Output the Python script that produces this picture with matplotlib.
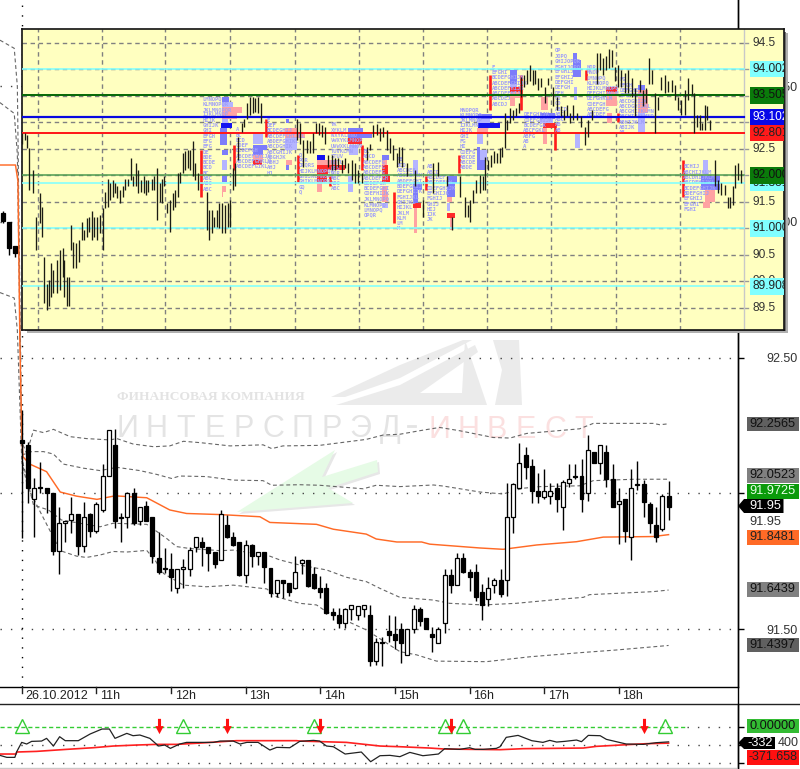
import matplotlib
matplotlib.use('Agg')
import matplotlib.pyplot as plt
from matplotlib.patches import Polygon, Rectangle
from matplotlib.transforms import ScaledTranslation

W, H = 800, 769
plt.rcParams['font.family'] = ['Liberation Sans', 'DejaVu Sans']

# ---- 5-minute candles of the main chart (index -3 .. 104) ----
first_bar = -3
opens = [93.033,93.000,92.912,92.195,92.178,91.978,92.021,92.021,92.001,91.789,91.892,91.901,91.923,91.807,91.924,91.863,91.939,92.063,92.178,91.914,91.912,92.001,91.899,91.953,91.912,91.761,91.725,91.723,91.650,91.723,91.723,91.801,91.821,91.801,91.784,91.753,91.882,91.839,91.821,91.699,91.810,91.770,91.783,91.724,91.632,91.682,91.671,91.650,91.742,91.753,91.702,91.650,91.650,91.562,91.553,91.521,91.573,91.552,91.573,91.553,91.384,91.451,91.493,91.482,91.499,91.403,91.499,91.573,91.542,91.482,91.450,91.521,91.700,91.661,91.761,91.712,91.712,91.638,91.612,91.662,91.681,91.681,91.912,92.021,92.141,92.101,92.009,91.988,91.990,92.021,91.951,92.039,92.063,92.064,92.001,92.152,92.111,92.152,92.052,91.960,91.979,91.839,92.034,92.033,91.961,91.882,91.868,91.990]
highs = [93.040,93.000,92.912,92.307,92.190,92.055,92.117,92.021,92.001,91.949,91.899,91.985,91.923,91.968,91.929,91.968,92.107,92.232,92.236,91.926,92.006,92.019,91.951,91.973,91.912,91.859,91.797,91.782,91.723,91.757,91.804,91.839,91.838,91.801,91.784,91.939,91.920,91.859,91.821,91.828,91.813,91.783,91.783,91.724,91.682,91.682,91.671,91.769,91.757,91.753,91.730,91.697,91.669,91.576,91.576,91.576,91.590,91.586,91.590,91.589,91.466,91.472,91.552,91.548,91.521,91.499,91.589,91.580,91.542,91.509,91.509,91.720,91.720,91.779,91.779,91.720,91.740,91.666,91.691,91.687,91.720,92.037,92.037,92.187,92.170,92.125,92.077,92.089,92.039,92.037,92.049,92.108,92.108,92.125,92.217,92.152,92.179,92.177,92.108,92.019,91.979,92.089,92.118,92.049,91.967,91.951,91.998,92.047]
lows = [92.995,92.880,92.870,91.834,91.963,91.841,92.003,91.926,91.773,91.702,91.822,91.853,91.773,91.785,91.841,91.853,91.933,92.063,91.871,91.822,91.871,91.883,91.883,91.899,91.745,91.702,91.705,91.642,91.634,91.650,91.696,91.785,91.732,91.714,91.724,91.753,91.834,91.806,91.696,91.671,91.730,91.736,91.671,91.617,91.617,91.613,91.622,91.646,91.702,91.656,91.646,91.613,91.556,91.533,91.503,91.503,91.533,91.533,91.546,91.364,91.368,91.364,91.454,91.425,91.374,91.403,91.484,91.511,91.499,91.417,91.450,91.484,91.632,91.661,91.705,91.642,91.605,91.533,91.585,91.632,91.617,91.622,91.853,92.019,92.052,91.963,91.963,91.978,91.961,91.933,91.865,92.025,92.052,91.933,91.973,92.111,92.071,92.025,91.951,91.813,91.822,91.755,92.012,91.914,91.853,91.822,91.863,91.902]
closes = [93.004,92.904,92.886,92.185,92.021,92.021,92.024,92.001,91.789,91.892,91.899,91.923,91.807,91.912,91.863,91.961,92.063,92.232,91.899,91.910,92.001,91.890,91.951,91.899,91.769,91.710,91.721,91.692,91.723,91.730,91.790,91.839,91.801,91.782,91.741,91.923,91.839,91.810,91.699,91.810,91.770,91.783,91.728,91.632,91.682,91.669,91.638,91.712,91.753,91.660,91.650,91.638,91.561,91.553,91.524,91.573,91.590,91.584,91.590,91.384,91.451,91.449,91.479,91.461,91.450,91.499,91.573,91.530,91.499,91.470,91.500,91.700,91.661,91.761,91.710,91.692,91.619,91.590,91.650,91.681,91.630,91.912,92.033,92.111,92.098,92.009,91.990,92.010,92.009,91.978,92.041,92.052,92.061,91.978,92.160,92.111,92.179,92.052,91.951,91.971,91.861,92.021,92.032,91.969,91.892,91.839,91.990,91.951]

# ---- moving average and envelopes ----
sma_t = [-3.5,-1,-0.6,-0.3,0,0.2,1.3,4,6.2,8.8,12.1,15,20.1,23.8,26.5,31.9,38.3,39.9,47.4,50.1,55.4,57,60.3,64.3,65.6,73.6,77.4,82.8,89.2,93.5,101.5,104]
sma_v = [93.21,93.21,93.15,92.565,92.221,92.135,92.108,92.080,92.005,91.990,91.978,91.991,91.984,91.939,91.926,91.922,91.914,91.893,91.886,91.868,91.850,91.832,91.821,91.821,91.813,91.799,91.794,91.810,91.822,91.839,91.841,91.848]
up2_t = [-3.5,-1.2,-0.7,0,0.8,1.9,3.5,5.1,7.8,10.4,14.2,15.3,17.9,21.2,23.8,26,28.7,33.5,38.8,40.2,42,47.9,55.4,58.1,60.8,64.5,67.2,70.4,75.8,78.5,81.2,89.7,91.9,101.5,102.6,104]
up2_v = [93.67,93.64,93.50,92.19,92.147,92.233,92.224,92.236,92.209,92.202,92.197,92.202,92.182,92.172,92.175,92.192,92.187,92.175,92.179,92.165,92.175,92.177,92.199,92.215,92.218,92.233,92.243,92.231,92.206,92.204,92.221,92.238,92.258,92.258,92.253,92.2565]
up1_t = [-3.5,-1.2,-0.7,0,1.6,3.5,5.1,6.7,9.9,12.6,15.3,19,21.7,24.1,25.4,29.7,34,38.8,40.2,44.7,47.9,54.9,57,60.8,66.2,67.8,73.7,77.4,80.6,83.3,89.7,91.9,98.3,104]
up1_v = [93.44,93.40,93.25,92.141,92.154,92.154,92.145,92.108,92.093,92.084,92.096,92.084,92.070,92.055,92.064,92.062,92.049,92.047,92.030,92.032,92.030,92.017,92.030,92.025,92.031,92.027,92.005,91.998,92.019,92.025,92.028,92.047,92.052,92.0523]
lo1_t = [-3.5,-1.2,-0.7,0,1.9,4.3,6.4,12.6,14.7,20.1,23.3,24.9,27,31.9,34,39.4,41.5,44.7,49,52.2,55.4,57.6,60.8,66.2,68.8,74.2,79.5,86.5,90.3,91.3,101.5,104]
lo1_v = [92.74,92.72,92.60,92.129,91.957,91.939,91.902,91.877,91.890,91.886,91.834,91.804,91.797,91.789,91.791,91.773,91.755,91.736,91.718,91.691,91.675,91.650,91.617,91.607,91.595,91.589,91.595,91.610,91.617,91.627,91.638,91.6439]
lo2_t = [0,1,6.2,8.8,10.4,12.6,14.7,16.9,20.1,21.4,22.8,26,29.7,34,39.4,41,44.7,47.4,49,55.4,60.8,63.5,66.7,74.7,81.7,89.7,95.6,104]
lo2_v = [92.12,92.02,91.789,91.769,91.764,91.773,91.786,91.784,91.790,91.755,91.705,91.662,91.656,91.662,91.648,91.619,91.595,91.589,91.564,91.497,91.417,91.405,91.382,91.380,91.398,91.413,91.423,91.4397]

hour_bars = [0,12,24,36,48,60,72,84,96]
hour_labels = ['26.10.2012','11h','12h','13h','14h','15h','16h','17h','18h']
main_ticks = [91.5,92.0,92.5,93.0,93.5]
main_tick_labels = ['91.50','92.00','92.50','93.00','93.50']

# ---- indicator ----
ind_t = [-3.5,-2.4,-1.1,-0.8,0,0.8,1.6,3.2,4,5.1,6.1,7,9.1,11,12.9,14.1,15,16.9,17.9,19,20.6,22,23,23.9,25.4,26.5,29.2,30.8,31.9,34,35.1,36.2,38,39.9,41,43.1,44.7,46.9,47.9,49,50.1,52,54.6,56.1,57.6,59.2,60.8,62.4,64.5,67,68,70.4,72,72.9,74.2,76.3,76.9,77.9,79.8,82,83.8,84.9,86,87.3,89.2,90,91.1,93,94,97.2,99.9,102,104]
ind_v = [-627,-671,-671,-547,-343,-379,-321,-314,-255,-423,-219,-306,-306,-160,-51,-51,-255,-146,-197,-182,-255,-423,-401,-474,-379,-343,-343,-343,-314,-314,-379,-343,-343,-511,-452,-460,-321,-299,-314,-423,-438,-598,-554,-766,-635,-627,-656,-562,-635,-598,-481,-496,-460,-496,-496,-474,-438,-233,-190,-306,-343,-299,-336,-321,-292,-328,-190,-197,-277,-379,-387,-350,-332]
sig_t = [-3.5,-0.9,-0.8,2.4,7.2,11.5,14.7,18.5,21.7,24.9,29.7,34.5,44.2,44.7,52.2,57.6,60.8,65.6,68,76.9,80.6,90.3,92.4,97.2,100.4,104]
sig_v = [-598,-598,-554,-540,-496,-460,-423,-401,-387,-387,-350,-306,-306,-314,-343,-423,-438,-467,-489,-503,-481,-467,-430,-394,-372,-360]
buy_bars = [0,26,47,68,71,103.4]
sell_bars = [22,33,48,69,100]

# ---- upper panel: bars of the larger scale (position, high, low) ----
p_pos = [8.3,9.4,10,11,12.2,13.3,14.8,15.8,16.6,17.5,18.4,19.1,20,21.5,22.5,23.5,24.1,25,25.8,26.6,27.5,28.5,29.6,30.6,31.5,32.5,33.5,34.4,35.4,36.3,37.3,38.5,39.4,40.3,41.3,42.3,43.1,44,45,46,47,48,49,50,51,51.9,52.9,53.8,54.6,55.6,56.9,57.9,58.8,59.8,60.8,61.6,62.8,63.8,64.8,65.8,66.6,67.5,68.5,69.5,70.4,71.3,72.3,73.3,74.4,77.5,78.5,79.5,80.4,81.3,82.3,83.3,84.4,85.4,86.3,87.3,88.1,89.4,90.6,91.6,92.8,93.8,94.8,95.6,96.9,97.9,111.3,112.5,113.5,115,116.3,117.3,118.5,119.8,120.6,121.9,123.1,124.4,125.6,126.9,128.1,129.4,130.6,131.9,133.1,134.4,135.6,137.5,138.8,140,141.3,142.5,143.8,145,146.3,147.5,148.8,149.8,150.6,152.5,155.6,158.8,162.5,164.4,167.5,169.4,172.5,174.4,175.4,176.3,177.3,178.5,180,181,182.1,183.1,184.1,185.3,186.3,187.5,188.3,189.3,190.3,191.3,192.5,193.5,194.5,195.6,196.5,197.5,198.8,199.8,200.6,201.9,203.1,204.4,205.6,207.5,208.8,210.3,211.5,212.5,213.8,214.8,216.3,218.1,219.4,220.6,221.9,223.8,225,226.3,227.5,228.5,229.4,230.6,231.9,233.1,234.4,235.4,236.9,238.1,240,241.3,242.3,243.5,244.5,245.6,246.9,248.1,249.4,250.6,251.9,253.1,254.4,255.6,256.9,258.1,259.4,260.3,261.5,262.5,263.5,264.4,265.3,266.3,268.1,269.4,270.6,271.9,273.1,274,275,275.9,276.9,278.1]
p_high = [92.79,92.79,92.76,92.51,92.10,91.22,91.66,91.41,90.47,89.96,90.03,90.34,90.22,90.40,90.59,90.63,90.40,90.09,90.09,91.06,90.75,90.72,90.78,91.13,90.97,91.19,91.22,91.32,91.22,91.22,91.25,91.38,91.69,91.94,91.85,91.91,91.85,91.79,91.72,91.79,91.94,91.94,92.32,91.98,92.23,92.10,91.91,91.98,91.91,91.91,91.94,91.98,92.13,91.85,91.94,91.98,91.47,91.54,91.66,91.72,92.04,92.07,92.42,92.45,92.48,92.48,92.64,92.23,92.04,91.69,91.35,91.35,91.22,91.35,91.48,91.47,91.44,91.47,91.54,92.13,92.23,92.73,92.98,93.07,93.36,93.48,93.47,93.45,93.47,93.36,93.07,92.98,92.67,92.67,92.64,92.79,92.98,92.98,92.95,92.92,92.39,92.39,92.32,92.32,92.29,92.32,92.23,92.29,92.23,92.10,92.04,92.54,92.60,92.95,92.97,92.89,92.92,92.86,92.70,92.57,92.42,92.54,92.54,92.23,92.10,91.54,92.23,92.26,91.98,91.22,91.98,91.60,91.44,91.54,91.72,91.91,92.01,91.98,92.35,92.29,92.39,92.45,92.42,92.51,92.54,93.17,93.04,93.26,93.23,93.26,93.36,93.86,93.89,93.99,94.08,93.99,93.99,93.83,93.83,93.67,93.83,93.67,93.48,93.30,93.23,93.33,93.17,93.33,93.17,93.11,92.92,93.04,93.23,94.30,94.30,94.21,94.24,94.39,94.36,94.05,94.08,93.99,93.92,93.99,93.83,93.64,93.80,93.61,93.64,94.21,93.99,93.55,93.48,93.86,93.89,93.77,93.80,93.70,93.48,93.42,93.61,93.83,93.73,93.55,93.14,93.14,92.98,93.33,93.30,93.04,92.29,91.91,91.85,91.82,91.60,91.60,91.79,92.20,92.23,92.10]
p_low = [92.60,92.67,92.51,91.72,91.66,90.59,91.10,90.84,89.59,89.46,89.53,89.71,89.78,89.78,89.84,90.09,89.71,89.53,89.53,90.59,90.25,90.25,90.37,90.78,90.78,90.84,90.94,90.78,90.84,90.78,90.91,90.59,91.38,91.41,91.54,91.60,91.66,91.57,91.47,91.60,91.72,91.79,91.91,91.79,91.79,91.66,91.69,91.66,91.63,91.69,91.72,91.72,91.16,91.50,91.47,91.79,91.29,90.94,91.35,91.41,91.60,91.85,92.04,92.10,92.13,92.10,91.98,91.91,91.72,90.97,90.78,90.91,91.03,91.03,91.00,90.91,90.91,91.03,91.03,91.72,91.79,92.29,92.82,92.92,93.07,93.14,93.17,93.20,93.17,92.98,92.67,92.60,92.16,92.42,92.42,92.42,92.79,92.76,92.73,92.60,92.16,92.10,92.10,92.16,92.04,92.13,92.04,91.91,91.85,91.85,91.85,92.29,92.48,92.73,92.76,92.64,92.73,92.48,92.42,92.29,92.16,92.23,92.16,91.98,91.79,91.22,91.66,91.98,91.79,90.97,91.60,91.22,91.22,91.13,91.47,91.66,91.66,91.72,91.72,92.10,92.16,92.23,92.23,92.23,92.35,92.51,92.86,92.98,93.04,93.11,93.17,93.48,93.67,93.73,93.77,93.70,93.73,93.61,93.67,93.36,93.70,93.30,93.23,93.11,93.04,93.11,92.98,93.04,93.04,92.92,92.57,92.73,93.04,93.73,93.99,93.89,93.99,94.02,94.05,93.77,93.67,93.67,93.55,93.55,93.48,93.11,93.58,93.30,93.36,93.73,93.73,92.79,93.23,93.61,93.55,93.58,93.58,93.42,93.23,93.14,93.14,93.42,93.51,92.79,92.92,92.86,92.86,92.86,93.04,92.86,91.79,91.66,91.63,91.63,91.38,91.38,91.44,91.76,91.91,91.85]
panel_grid_x = [14.1,38.4,62,86.3,110.5,134.8,158.5,182.6,206.8,230.9,255.1]
panel_ticks = [94.5,94.0,93.5,93.0,92.5,92.0,91.5,91.0,90.5,90.0,89.5]
panel_tick_labels = ['94.5','92.5','91.5','90.5','90.0','89.5']
panel_tick_vals = [94.5,92.5,91.5,90.5,90.0,89.5]
level_vals = [94.002,91.851,91.000,89.908,93.505,93.102,92.801,92.000]
level_kind = ['cyan','cyan','cyan','cyan','green','blue','red','lgreen']

# ---- market profile letters: (position, first row price, rows) ----
tpo_profiles = [
 (75.9,93.44,['LMNOPQ','KLMNOPQR','JKLMNOPQR','IJKLMNOP','HIJK','GHIJK','GHI','EFGH','EFG','EFG','DE','BDE','BCDE','BCD','BC','ABC','ABC','ABC']),
 (88.5,92.86,['A','BC','BCD','CDEF','BCDEFGH','ABCDEFGHIJK','ABCDEFGHKLM','ABCDEFGIKL']),
 (100,93.04,['E','DEF','BCDEGHIJ','ABCDEFGHIJKL','ABDEFGHIKL','ABCDGHIK','ABCGHIJK','ABGHJK','ABHJ','AHJ','HJ']),
 (111.9,92.39,['Q','PQR','OPQRS','HIJKLMNOPQR','GHIJKLMNOPQ','GHIKLMNOPQ','GQ','Q']),
 (124,92.95,['YK','XYKLM','WXYKLMNO','VWXYKLMNOP','UVWXKLMNOP','TUVKLMN','STUV','RSTU','QRS','PQR','ABC','ABC','ABC']),
 (136.3,92.45,['BC','ABCD','ABCDEFG','ABCDEFG','ABCDEFG','ABCDEFGH','BCDEFGH','BCDEFGHI','CDEFHIJK','JKLMNOPQ','KLMNOPQ','LMNOPQ','OPQR']),
 (148.8,92.29,['AB','BCD','ABCDEF','ABCDEFGH','ABDEFGHI','BDEFGHIJ','DEFGHIJK','FGHIJKL','GHIJKL','HIJKL','JKLM','KLM','LM','M']),
 (160,92.16,['AB','ABCD','ABCDEF','ABCDEFGH','CDEFGHIJK','EFGHIJK','FGHIJ','GHIJ','HIJ','IJK','JK']),
 (172.5,93.24,['MNOPQR','KLMNOPQ','JKLMNOP','IJKLMN','HIJK','GHI','FG','HI','CDEFG','ABCDE','ABCDE','ABDE']),
 (184.4,94.04,['E','EFGHI','BCDEFGHIJK','ABCDEFGHIJK','ABCDEFHIJK','ABCDEFHIJ','ABCDEJ','ABCDJ']),
 (196.3,93.14,['DEFGHIJK','CDEFGHIJK','BCDEFGK','ABCFGKL','ABFG','AB','A']),
 (208.1,94.35,['OP','JOPQ','GHIJOPQR','FGHIJOPQ','EFGHIJ','EFGHIJ','DEFGHI','DEFGH','DEH','CD','CD','ABCD','ABC','ABC','AB','AB']),
 (220,94.04,['NOP','MNOP','LMNOPQ','KLMNOPQ','HIJKLMNOPQ','DEFGHIJKLM','DEFGHKLM','CDEFGH','ABCDEFG','ABCDEF']),
 (232.3,93.80,['FG','EFGH','DEFGHI','CDEFGHIJ','ABCDGHIJK','ABCDGHIJKL','ABCGHIJKLMN','ABCHIJKLMNO','ABHIJKLM','ABIJK','AB']),
 (256.3,92.16,['BCHIJ','ABCHIJKLM','ABCDHIJKLM','ABCDEHIJKL','BCDEFGHIJK','BDEFGHIJ','EFGHIJ','EFGHI','FGHI']),
]
# histogram blocks behind the letters: (left, right, top price, bottom price, shade)
tpo_blocks = [
 (83.1,86,93.47,93.39,'M'),(83.1,87.5,93.38,93.28,'L'),(83.1,90.6,93.28,93.18,'P'),(83.1,88.8,93.17,93.07,'P'),(83.1,85.6,93.07,92.97,'L'),(82.8,87,92.98,92.89,'B'),(82.5,85,92.89,92.57,'M'),(83.1,85.6,92.48,92.39,'M'),(83.1,85,92.29,92.10,'L'),(83.1,85,92.01,91.87,'M'),(83.1,84.8,91.79,91.69,'P'),(83.1,83.8,91.69,91.60,'P'),
 (95,98.8,92.79,92.60,'L'),(95,100,92.57,92.48,'M'),(95,98.8,92.48,92.39,'M'),(95,98.8,92.39,92.29,'P'),(95,98.1,92.29,92.20,'R'),
 (107.3,108.3,93.07,92.98,'M'),(106.9,111.3,92.89,92.82,'P'),(106.9,114.4,92.79,92.70,'P'),(106.9,111.3,92.70,92.48,'L'),(107.3,109.4,92.29,92.20,'P'),(107.3,108.5,92.20,92.10,'M'),
 (118.8,121.9,92.39,92.29,'B'),(118.8,126.3,92.29,92.20,'P'),(118.8,129.4,92.20,92.10,'R'),(118.8,123.1,92.10,92.01,'R'),(118.8,122.5,91.98,91.88,'R'),(118.8,120.6,91.88,91.69,'P'),
 (130.6,136.3,92.89,92.79,'M'),(130.6,139.4,92.79,92.70,'M'),(130.6,135.6,92.70,92.59,'R'),(131,134.4,92.57,92.39,'L'),(130.6,132.5,91.98,91.69,'L'),
 (143.1,146,92.39,92.29,'M'),(143.1,145,92.29,92.20,'P'),(143.1,145.6,92.20,92.01,'R'),(143.1,146.3,91.98,91.88,'R'),(143.1,145,91.79,91.69,'P'),(143.1,145.6,91.69,91.50,'P'),(143.1,145.6,91.48,91.38,'L'),
 (155,156.9,92.29,91.98,'L'),(155,158.1,91.88,91.72,'M'),(155,156.9,91.72,91.47,'M'),(155,157.8,91.47,91.38,'R'),(155.4,156.5,91.38,90.91,'P'),
 (167.5,171.3,91.98,91.85,'M'),(167.5,170.6,91.85,91.60,'M'),(167.5,169.4,91.60,91.50,'P'),(167.5,168.8,91.47,91.32,'L'),(167.5,170.6,91.29,91.19,'R'),(168.8,169.8,91.19,90.97,'P'),
 (179.4,184.4,93.16,93.07,'M'),(178.8,183.8,93.07,92.98,'L'),(179.4,187.5,92.98,92.89,'B'),(178.8,183.1,92.89,92.79,'P'),(178.8,181.3,92.79,92.60,'L'),(178.8,182.5,92.48,92.29,'L'),(178.8,180,92.54,92.29,'M'),(178.8,181.9,92.29,92.10,'M'),
 (191.3,193.8,93.99,93.73,'M'),(191.3,193.8,93.73,93.67,'L'),(191.3,195.6,93.67,93.58,'R'),(191.3,195,93.58,93.45,'P'),(191.3,193.1,93.45,93.30,'P'),
 (203.1,205.6,93.48,93.23,'P'),(202.5,208.1,93.17,93.07,'M'),(202.5,207.5,93.07,92.98,'L'),(203.8,208.1,92.98,92.89,'R'),(203.8,205,92.89,92.60,'P'),
 (215,216.3,94.30,93.86,'M'),(215,218.1,94.17,93.86,'M'),(215.3,216.3,93.67,93.42,'L'),(215.6,217.5,92.79,92.51,'L'),
 (227.5,231.3,93.67,93.58,'R'),(227.5,231.3,93.58,93.30,'P'),(227.8,229.4,93.17,92.98,'P'),
 (239.4,241.9,93.70,93.61,'M'),(239.4,243.1,93.61,93.17,'P'),(239.4,241.9,93.17,92.79,'L'),
 (263.8,265.6,92.29,91.98,'L'),(263.1,270,91.98,91.72,'M'),(264.4,268.1,91.72,91.50,'P'),(263.8,266.3,91.50,91.38,'P'),
]
va_pos = [75.4,87.8,99.6,111.8,123.6,135.6,147.9,159.8,172,183.8,195.6,208.1,219.8,231.9,256.1]
va_top = [92.48,92.57,93.07,92.39,91.98,92.57,91.69,91.98,92.39,93.89,93.89,92.98,93.99,93.17,92.29]
va_bot = [91.60,92.10,92.73,91.88,91.79,92.10,91.10,91.72,92.04,93.23,93.23,92.48,93.80,93.01,91.60]

SHADE = {'L':'#b4b4ff','M':'#7c7cfa','B':'#1414f0','P':'#ffa2a2','R':'#ff2a2a'}
LEVEL = {'cyan':('#80ffff','#80ffff','#222222',1.6),'green':('#0a6a0a','#0a7a0a','#111111',2.0),
         'blue':('#0808e0','#0808e8','#ffffff',2.2),'red':('#ff1a1a','#ff1a1a','#222222',2.0),
         'lgreen':('#55a055','#0a7a0a','#111111',1.6)}

def rect(x0, y0, x1, y1):
    return [x0/W, 1-y1/H, (x1-x0)/W, (y1-y0)/H]

fig = plt.figure(figsize=(W/100, H/100), dpi=100, facecolor='white')

# background layer in pixel coordinates: watermark
bg = fig.add_axes([0,0,1,1], zorder=0)
bg.set_xlim(0,W); bg.set_ylim(H,0); bg.axis('off')
gray = '#ebebeb'
for poly in [[(331,397),(400,365),(463,340),(472,340),(400,378),(345,397)],
             [(336,405),(400,385),(475,345),(478,352),(420,393),(462,393),(465,340),(483,393),(487,405)],
             [(493,340),(519,340),(522,405),(495,405),(502,370)]]:
    bg.add_patch(Polygon(poly, closed=True, fc=gray, ec='none'))
bg.add_patch(Polygon([(239,514),(337,452),(324,479),(379,462),(380,474),(330,490),(355,505)], closed=True, fc='#dddddd', ec='none', alpha=.7))
bg.add_patch(Polygon([(237,512),(335,450),(322,477),(377,460),(378,472),(328,488),(353,503)], closed=True, fc='#e6fbe6', ec='none'))
bg.text(211,397,'ФИНАНСОВАЯ КОМПАНИЯ',family=['Liberation Serif','DejaVu Serif'],fontsize=9.7,fontweight='bold',color='#e3e3e3',ha='center',va='center')
wm_gray = list('ИНТЕРСПРЭД')
for k, ch in enumerate(wm_gray):
    bg.text(127+29.2*k,429,ch,fontsize=22,color='#e4e4e4',ha='center',va='center')
wm_pink = list('ИНВЕСТ')
for k, ch in enumerate(wm_pink):
    bg.text(439+29*k,430,ch,fontsize=22,color='#fbe0e0',ha='center',va='center')
bg.plot([408,415],[426,426],color='#e4e4e4',lw=2)

# main chart
ax = fig.add_axes(rect(0,0,737.7,687), zorder=1, facecolor='none')
y_per_px = 1/271.4
ax.set_ylim(92.5-(687-357.7)*y_per_px, 92.5+357.7*y_per_px)
ax.set_xlim(-21.7/6.22, (737.7-21.7)/6.22)
for s in ['top','left']:
    ax.spines[s].set_visible(False)
ax.spines['right'].set_linewidth(1); ax.spines['bottom'].set_linewidth(1)
ax.yaxis.tick_right()
ax.set_yticks(main_ticks); ax.set_yticklabels(main_tick_labels)
ax.tick_params(axis='y', length=4, width=1, pad=17, labelsize=9, labelcolor='#333333')
ax.set_xticks(hour_bars); ax.set_xticklabels(hour_labels)
ax.tick_params(axis='x', direction='in', length=0, labelsize=9, pad=2.5, labelcolor='#222222')
off = ScaledTranslation(2.6/72, 0, fig.dpi_scale_trans)
for lab in ax.get_xticklabels():
    lab.set_ha('left'); lab.set_transform(lab.get_transform()+off)
ax.axvline(0, color='black', lw=1, ls=(0,(1,6)))
for t in main_ticks:
    ax.axhline(t, color='#444444', lw=1, ls=(0,(1,6.5)), zorder=1)
for name,(tt,vv) in {'a':(up2_t,up2_v),'b':(up1_t,up1_v),'c':(lo1_t,lo1_v),'d':(lo2_t,lo2_v)}.items():
    ax.plot(tt,vv,color='#666666',lw=0.8,ls=(0,(3.5,2.5)),zorder=2)
ax.plot(sma_t,sma_v,color='#ff6a26',lw=1.05,zorder=3)
bars = list(range(first_bar, first_bar+len(opens)))
ax.vlines(bars,lows,highs,color='black',lw=1.0,zorder=4)
for x,o,c in zip(bars,opens,closes):
    up = c >= o
    ax.bar(x,abs(c-o),bottom=min(o,c),width=0.64,facecolor='white' if up else 'black',edgecolor='black',linewidth=0.9,zorder=5)

# indicator
ind = fig.add_axes(rect(0,704,737.7,768), zorder=1, facecolor='none')
ind.set_xlim(ax.get_xlim())
ind.set_ylim(-(768-726.7)/0.0457,(726.7-704)/0.0457)
for s in ['top','left','bottom']:
    ind.spines[s].set_visible(False)
ind.spines['right'].set_linewidth(1)
ind.yaxis.tick_right(); ind.set_yticks([0,-400,-800]); ind.set_yticklabels([])
ind.tick_params(axis='y',length=4,width=1); ind.set_xticks([])
for v in [-400,-800]:
    ind.axhline(v,color='#444444',lw=1,ls=(0,(1,6.5)))
ind.plot([-3.5,107],[0,0],color='#33cc33',lw=1,ls=(0,(3,2)))
ind.plot([107,115],[0,0],color='#444444',lw=1,ls=(0,(1,6.5)))
ind.plot(sig_t,sig_v,color='#ff2020',lw=1.2,zorder=3)
ind.plot(ind_t,ind_v,color='#222222',lw=0.9,zorder=4)
ind.plot(buy_bars,[20]*len(buy_bars),ls='none',marker='^',ms=10.5,mfc='none',mec='#33cc33',mew=1,clip_on=False,zorder=5)
arrow = [(-.2,1),(.2,1),(.2,.05),(.55,.05),(0,-1),(-.55,.05),(-.2,.05)]
ind.plot(sell_bars,[20]*len(sell_bars),ls='none',marker=arrow,ms=11,mfc='#ff1010',mec='#ff1010',mew=0,clip_on=False,zorder=6)

# top layer in pixels: strip lines and price labels
ov = fig.add_axes([0,0,1,1], zorder=2, facecolor='none')
ov.set_xlim(0,W); ov.set_ylim(H,0); ov.axis('off')
ov.plot([0,800],[704,704],color='#222222',lw=1)
ov.plot([0,737.7],[768.2,768.2],color='#c8c8c8',lw=1)
ov.plot([737.7,737.7],[0,769],color='black',lw=1)
for t in hour_bars:
    xp = 21.7+6.22*t
    ov.plot([xp,xp],[687,693],color='#222222',lw=1)
box_labels = [('92.2565',424,'#606060','#111111'),('92.0523',475.5,'#808080','#111111'),('91.9725',491.5,'#0a9a0a','#e8ffe8'),
              ('91.8481',537.5,'#ff6a26','#222222'),('91.6439',589.5,'#808080','#111111'),('91.4397',645,'#606060','#111111'),
              ('0.00000',726,'#33bb33','#111111')]
for txt,yy,fc,tc in box_labels:
    ov.add_patch(Rectangle((746.7,yy-7.3),52,14.6,fc=fc,ec='none'))
    ov.text(772.7,yy,txt,fontsize=9.2,color=tc,ha='center',va='center')
ov.add_patch(Polygon([(738,506),(744,499),(783.5,499),(783.5,513),(744,513)],closed=True,fc='black',ec='none'))
ov.text(765,506,'91.95',fontsize=9.2,color='white',ha='center',va='center')
ov.text(765,521.7,'91.95',fontsize=9.2,color='#333333',ha='center',va='center')
ov.add_patch(Polygon([(738,743),(744,737),(775,737),(775,749),(744,749)],closed=True,fc='black',ec='none'))
ov.text(760,743,'-332',fontsize=9.2,color='white',ha='center',va='center')
ov.text(788,743.5,'400',fontsize=9,color='#333333',ha='center',va='center')
ov.add_patch(Rectangle((746.7,750),52,15,fc='#ff1010',ec='none'))
ov.text(772.7,757.5,'-371.658',fontsize=9,color='#222222',ha='center',va='center')

# floating upper panel
sh = fig.add_axes([0,0,1,1], zorder=3, facecolor='none')
sh.set_xlim(0,W); sh.set_ylim(H,0); sh.axis('off')
sh.add_patch(Rectangle((26.5,33),761,299.5,fc='#b0b0b0',ec='none'))
sh.add_patch(Rectangle((25,32),761,299,fc='#707070',ec='none'))
pn = fig.add_axes(rect(21.7,28.5,784,329.5), zorder=4, facecolor='#ffffc0')
pn.set_xlim(8.1,294.1)
pn.set_ylim(89.5-21.5/53.06, 94.5+14.2/53.06)
pn.set_xticks([]); pn.set_yticks([])
for s in pn.spines.values():
    s.set_linewidth(1.2); s.set_color('#111111')
axis_x = 279.1
for g in panel_grid_x:
    pn.plot([g,g],pn.get_ylim(),color='#808080',lw=1,ls=(0,(3.2,2.6)),zorder=1)
for t in panel_ticks:
    pn.plot([8.1,axis_x],[t,t],color='#808080',lw=1,ls=(0,(3.2,2.6)),zorder=1)
    pn.plot([axis_x,280.6],[t,t],color='#999999',lw=1,zorder=1)
pn.plot([axis_x,axis_x],pn.get_ylim(),color='#c8c8c8',lw=1,zorder=1)
for v,lab in zip(panel_tick_vals,panel_tick_labels):
    pn.text(282.2,v,lab,fontsize=8.6,color='#333333',va='center',ha='left',zorder=2,clip_on=True)
for x0,x1,t,b,sh_code in tpo_blocks:
    pn.add_patch(Rectangle((x0,b),x1-x0,t-b,fc=SHADE[sh_code],ec='none',zorder=2))
pn.vlines(va_pos,va_bot,va_top,color='#ff1c1c',lw=1.9,zorder=3)
for x0,top,rows in tpo_profiles:
    for k,row in enumerate(rows):
        pn.text(x0,top-0.1*k,row,family='DejaVu Sans Mono',fontsize=4.0,fontweight='bold',color='#a0a0f8',va='center',ha='left',zorder=3,clip_on=True)
for v,kind in zip(level_vals,level_kind):
    lc,fc,tc,lw = LEVEL[kind]
    pn.plot([8.1,axis_x],[v,v],color=lc,lw=lw*0.72,zorder=4)
    pn.text(282.3,v,f'{v:.3f}',fontsize=8.6,color=tc,va='center',ha='left',zorder=6,clip_on=True,
            bbox=dict(boxstyle='square,pad=0.18',fc=fc,ec='none'))
pn.vlines(p_pos,p_low,p_high,color='#1c1c14',lw=0.95,zorder=5)

fig.savefig('out.png', dpi=100)
